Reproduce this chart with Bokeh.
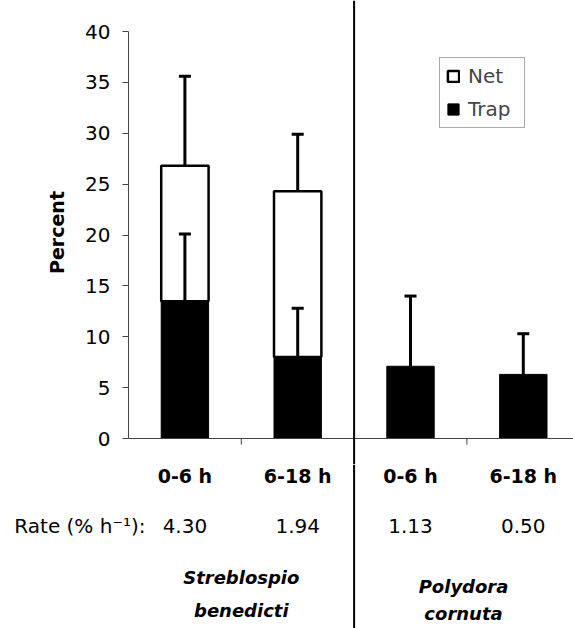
from bokeh.plotting import figure
from bokeh.layouts import column
from bokeh.models import (Range1d, FixedTicker, Span, Whisker, TeeHead, ColumnDataSource,
                          Legend, LegendItem)
from bokeh.core.properties import value
from bokeh.embed import file_html
from bokeh.resources import INLINE

# ---- data ----
categories = ["0-6 h", "6-18 h", "0-6 h", "6-18 h"]
rates = ["4.30", "1.94", "1.13", "0.50"]
rate_label = "Rate (% h\u207b\u00b9):"
species_line1 = ["Streblospio", "Polydora"]
species_line2 = ["benedicti", "cornuta"]
trap = [13.5, 8.0, 7.1, 6.3]          # Trap percent (black bars)
trap_err = [6.6, 4.8, 6.9, 4.0]       # Trap error (upper)
net_total = [26.8, 24.3]              # Net percent (white bars, S. benedicti only)
net_err = [8.8, 5.6]                  # Net error (upper)
y_ticks = [0, 5, 10, 15, 20, 25, 30, 35, 40]

FONT = "DejaVu Sans"

xs = [i + 0.5 for i in range(len(categories))]
n_net = len(net_total)

X_END = 3.945
SPLIT_Y = -2.555     # data value where the top panel hands over to the bottom panel
RATE_Y = -8.55

# ---------------- top figure: bars + y axis ----------------
p_top = figure(width=573, height=464, output_backend="svg", toolbar_location=None,
               x_range=Range1d(0, X_END), y_range=Range1d(SPLIT_Y, 43.05),
               x_axis_type=None, min_border_left=128, min_border_right=0,
               min_border_top=0, min_border_bottom=0)
p_top.outline_line_color = None
p_top.grid.grid_line_color = None

ax = p_top.yaxis[0]
ax.bounds = (0, 40)
ax.ticker = FixedTicker(ticks=y_ticks)
ax.minor_tick_line_color = None
ax.major_tick_in = 0
ax.major_tick_out = 6
ax.major_label_standoff = 12
ax.major_label_text_font = FONT
ax.major_label_text_font_size = "20px"
ax.major_label_text_color = "black"
ax.axis_line_color = "#444444"
ax.major_tick_line_color = "#444444"
ax.axis_label = "Percent"
ax.axis_label_text_font = FONT
ax.axis_label_text_font_style = "bold"
ax.axis_label_text_font_size = "19px"
ax.axis_label_text_color = "black"
ax.axis_label_standoff = 14

net_src = ColumnDataSource(dict(
    x=xs[:n_net], bottom=trap[:n_net], top=net_total,
    upper=[t + e for t, e in zip(net_total, net_err)]))
trap_src = ColumnDataSource(dict(
    x=xs, top=trap, upper=[t + e for t, e in zip(trap, trap_err)]))

net_r = p_top.vbar(x="x", bottom="bottom", top="top", width=0.42, source=net_src,
                   fill_color="white", line_color="black", line_width=2.5)
trap_r = p_top.vbar(x="x", bottom=0, top="top", width=0.42, source=trap_src,
                    fill_color="black", line_color="black", line_width=1)

for src in (net_src, trap_src):
    p_top.add_layout(Whisker(base="x", lower="top", upper="upper", source=src,
                             dimension="height", line_color="black", line_width=3,
                             level="overlay",
                             upper_head=TeeHead(size=12, line_width=3, line_color="black"),
                             lower_head=None))

p_top.add_layout(Span(location=0, dimension="width", line_color="#444444", line_width=1))
p_top.add_layout(Span(location=2, dimension="height", line_color="black", line_width=2))
p_top.segment(x0=[1, 3], y0=[0, 0], x1=[1, 3], y1=[-0.6, -0.6],
              line_color="#444444", line_width=1)

legend = Legend(items=[LegendItem(label="Net", renderers=[net_r]),
                       LegendItem(label="Trap", renderers=[trap_r])],
                location=(311, 336), padding=6, spacing=9, margin=0,
                glyph_width=14, glyph_height=14, label_standoff=8, label_width=50,
                label_text_font=FONT, label_text_font_size="20px",
                border_line_color="#555555", border_line_width=1,
                background_fill_color="white", background_fill_alpha=1)
p_top.add_layout(legend)

# ---------------- bottom figure: category labels, rates, species ----------------
p_bot = figure(width=573, height=164, output_backend="svg", toolbar_location=None,
               x_range=Range1d(0, X_END), y_range=Range1d(-18.67, SPLIT_Y),
               x_axis_type=None, min_border_left=128, min_border_right=0,
               min_border_top=0, min_border_bottom=0)
p_bot.outline_line_color = None
p_bot.grid.grid_line_color = None

# row header "Rate (% h-1):" carried by the left axis as its single tick label
bax = p_bot.yaxis[0]
bax.ticker = FixedTicker(ticks=[RATE_Y])
bax.major_label_overrides = {RATE_Y: rate_label}
bax.axis_line_color = None
bax.major_tick_line_color = None
bax.minor_tick_line_color = None
bax.major_tick_in = 0
bax.major_tick_out = 0
bax.major_label_standoff = -17
bax.major_label_text_font = FONT
bax.major_label_text_font_size = "20px"
bax.major_label_text_color = "black"

p_bot.add_layout(Span(location=2, dimension="height", line_color="black", line_width=2))

p_bot.text(x=xs, y=[-3.64] * len(xs), text=categories, text_font=value(FONT),
           text_font_style="bold", text_font_size="19px", text_align="center",
           text_baseline="middle", text_color="black")
p_bot.text(x=xs, y=[RATE_Y] * len(xs), text=rates, text_font=value(FONT),
           text_font_size="20px", text_align="center", text_baseline="middle",
           text_color="black")

p_bot.text(x=[1.0, 2.97], y=[-13.66, -14.5], text=species_line1, text_font=value(FONT),
           text_font_style="bold italic", text_font_size="18px", text_align="center",
           text_baseline="middle", text_color="black")
p_bot.text(x=[1.0, 2.97], y=[-16.9, -17.2], text=species_line2, text_font=value(FONT),
           text_font_style="bold italic", text_font_size="18px", text_align="center",
           text_baseline="middle", text_color="black")

p = column(p_top, p_bot, spacing=0)

open("out.html", "w").write(file_html(p, INLINE))
